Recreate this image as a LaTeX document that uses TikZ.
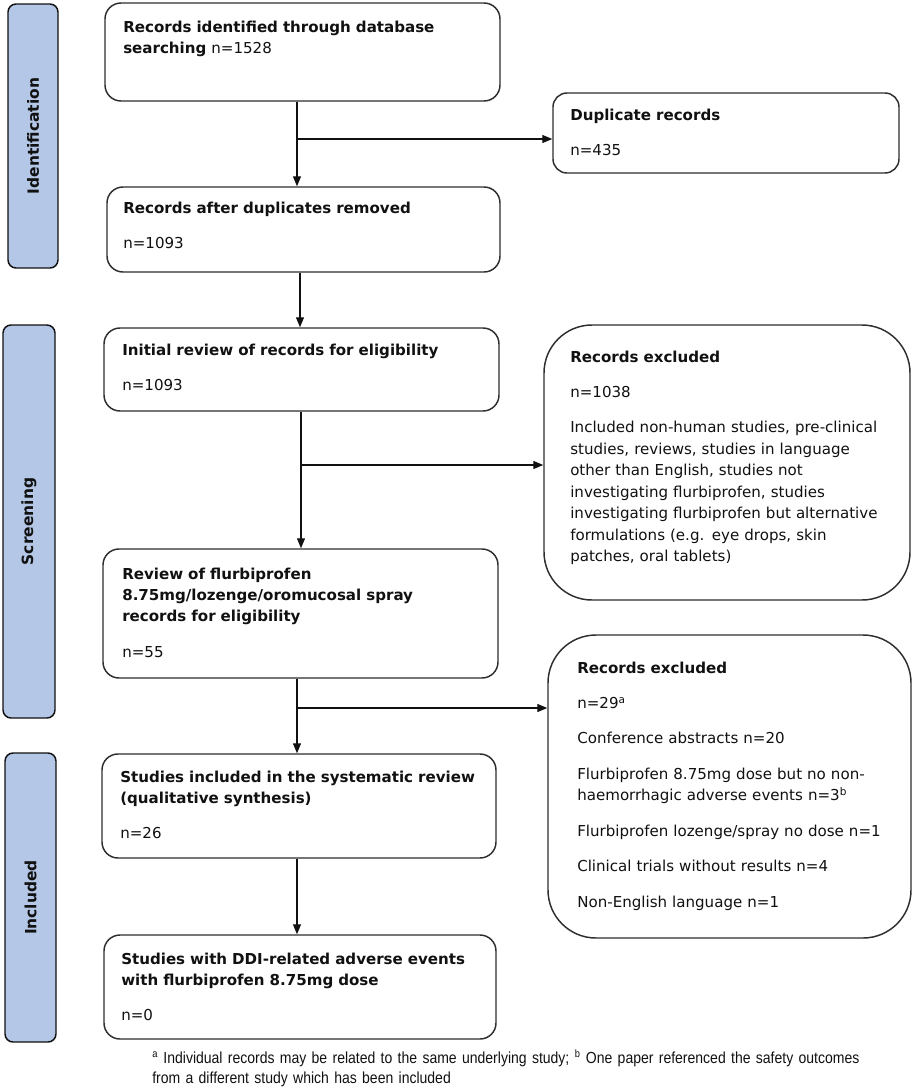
\documentclass[tikz,border=0pt]{standalone}
\usepackage{fontspec}
\setmainfont{DejaVu Sans}
\newfontfamily\notefont[FakeStretch=0.875]{Liberation Sans}
\usetikzlibrary{arrows.meta,calc}
\definecolor{barblue}{HTML}{B4C7E7}
\definecolor{linegray}{HTML}{2E2E2E}
\definecolor{inkc}{HTML}{111111}
\begin{document}
\begin{tikzpicture}[x=0.75pt,y=-0.75pt,
  box/.style={draw=linegray, line width=1.1pt, rounded corners=12pt, inner sep=0pt, fill=white},
  bigbox/.style={box, rounded corners=36pt},
  dupbox/.style={box, rounded corners=10.5pt},
  bar/.style={draw=inkc, line width=1.1pt, fill=barblue, rounded corners=6pt, inner sep=0pt},
  barlabel/.style={rotate=90, font=\fontsize{11.6}{13}\selectfont\bfseries, text=inkc, inner sep=0pt},
  txt/.style={anchor=base west, inner sep=0pt, text width=290pt, align=left, text=inkc,
    font=\fontsize{11.3}{16.1}\selectfont},
  arr/.style={draw=inkc, line width=0.95pt, -{Triangle[length=7.5pt,width=6pt]}},
  note/.style={anchor=base west, inner sep=0pt, text width=600pt, align=left, text=inkc,
    font=\notefont\fontsize{12}{15}\selectfont}]
\useasboundingbox (0,0) rectangle (913,1089);

% phase bars
\node[bar, minimum width=37.5pt, minimum height=198pt] (idbar) at (33,136) {};
\node[barlabel] (idlab) at (idbar.center) {Identification};
\node[bar, minimum width=39pt, minimum height=294.75pt] (scrbar) at (29,521.5) {};
\node[barlabel] (scrlab) at (scrbar.center) {Screening};
\node[bar, minimum width=38.25pt, minimum height=216.75pt] (incbar) at (30.5,897.5) {};
\node[barlabel] (inclab) at (incbar.center) {Included};

% main column boxes
\node[box, minimum width=296.25pt, minimum height=73.5pt] (b1) at (302.5,52) {};
\node[box, minimum width=294.75pt, minimum height=63.75pt] (b2) at (303.5,229.5) {};
\node[box, minimum width=296.25pt, minimum height=62.25pt] (b3) at (301.5,369.5) {};
\node[box, minimum width=296.25pt, minimum height=96.75pt] (b4) at (300.5,613.5) {};
\node[box, minimum width=295.5pt, minimum height=78pt] (b5) at (299,806) {};
\node[box, minimum width=294pt, minimum height=78pt] (b6) at (300,987) {};

% side boxes
\node[dupbox, minimum width=259.5pt, minimum height=60pt] (dup) at (726,133) {};
\node[bigbox, minimum width=274.5pt, minimum height=206.25pt] (ex1) at (727,462.5) {};
\node[bigbox, minimum width=272.25pt, minimum height=227.25pt] (ex2) at (729.5,786.5) {};

% texts
\node[txt] (t1) at (123,32) {\textbf{Records identified through database}\\\textbf{searching} n=1528};
\node[txt] (t2) at (123,213) {\textbf{Records after duplicates removed}\\[10.5pt]n=1093};
\node[txt] (t3) at (122,355) {\textbf{Initial review of records for eligibility}\\[10.5pt]n=1093};
\node[txt] (t4) at (122,579) {\textbf{Review of flurbiprofen}\\\textbf{8.75mg/lozenge/oromucosal spray}\\\textbf{records for eligibility}\\[10.5pt]n=55};
\node[txt] (t5) at (120,782) {\textbf{Studies included in the systematic review}\\\textbf{(qualitative synthesis)}\\[10.5pt]n=26};
\node[txt] (t6) at (121,964) {\textbf{Studies with DDI-related adverse events}\\\textbf{with flurbiprofen 8.75mg dose}\\[10.5pt]n=0};
\node[txt] (t7) at (570,120) {\textbf{Duplicate records}\\[10.5pt]n=435};
\node[txt] (t8) at (570,362) {\textbf{Records excluded}\\[10.5pt]n=1038\\[10.5pt]Included non-human studies, pre-clinical\\studies, reviews, studies in language\\other than English, studies not\\investigating flurbiprofen, studies\\investigating flurbiprofen but alternative\\formulations (e.g. eye drops, skin\\patches, oral tablets)};
\node[txt] (t9) at (577,673) {\textbf{Records excluded}\\[10.5pt]n=29\textsuperscript{a}\\[10.5pt]Conference abstracts n=20\\[10.5pt]Flurbiprofen 8.75mg dose but no non-\\haemorrhagic adverse events n=3\textsuperscript{b}\\[10.5pt]Flurbiprofen lozenge/spray no dose n=1\\[10.5pt]Clinical trials without results n=4\\[10.5pt]Non-English language n=1};

% footnote
\node[note] (fn) at (152,1063) {\textsuperscript{a} Individual records may be related to the same underlying study; \textsuperscript{b} One paper referenced the safety outcomes\\from a different study which has been included};

% connectors
\coordinate (x1) at (297,0);
\coordinate (x2) at (300,0);
\coordinate (x3) at (301,0);
\coordinate (x4) at (297,0);
\coordinate (j1) at (297,139);
\coordinate (j3) at (301,465);
\coordinate (j4) at (297,708);
\draw[arr] (b1.south -| x1) -- (b2.north -| x1);
\draw[arr] (j1) -- (dup.west |- j1);
\draw[arr] (b2.south -| x2) -- (b3.north -| x2);
\draw[arr] (b3.south -| x3) -- (b4.north -| x3);
\draw[arr] (j3) -- (ex1.west |- j3);
\draw[arr] (b4.south -| x4) -- (b5.north -| x4);
\draw[arr] (j4) -- (ex2.west |- j4);
\draw[arr] (b5.south -| x4) -- (b6.north -| x4);
\end{tikzpicture}
\end{document}
